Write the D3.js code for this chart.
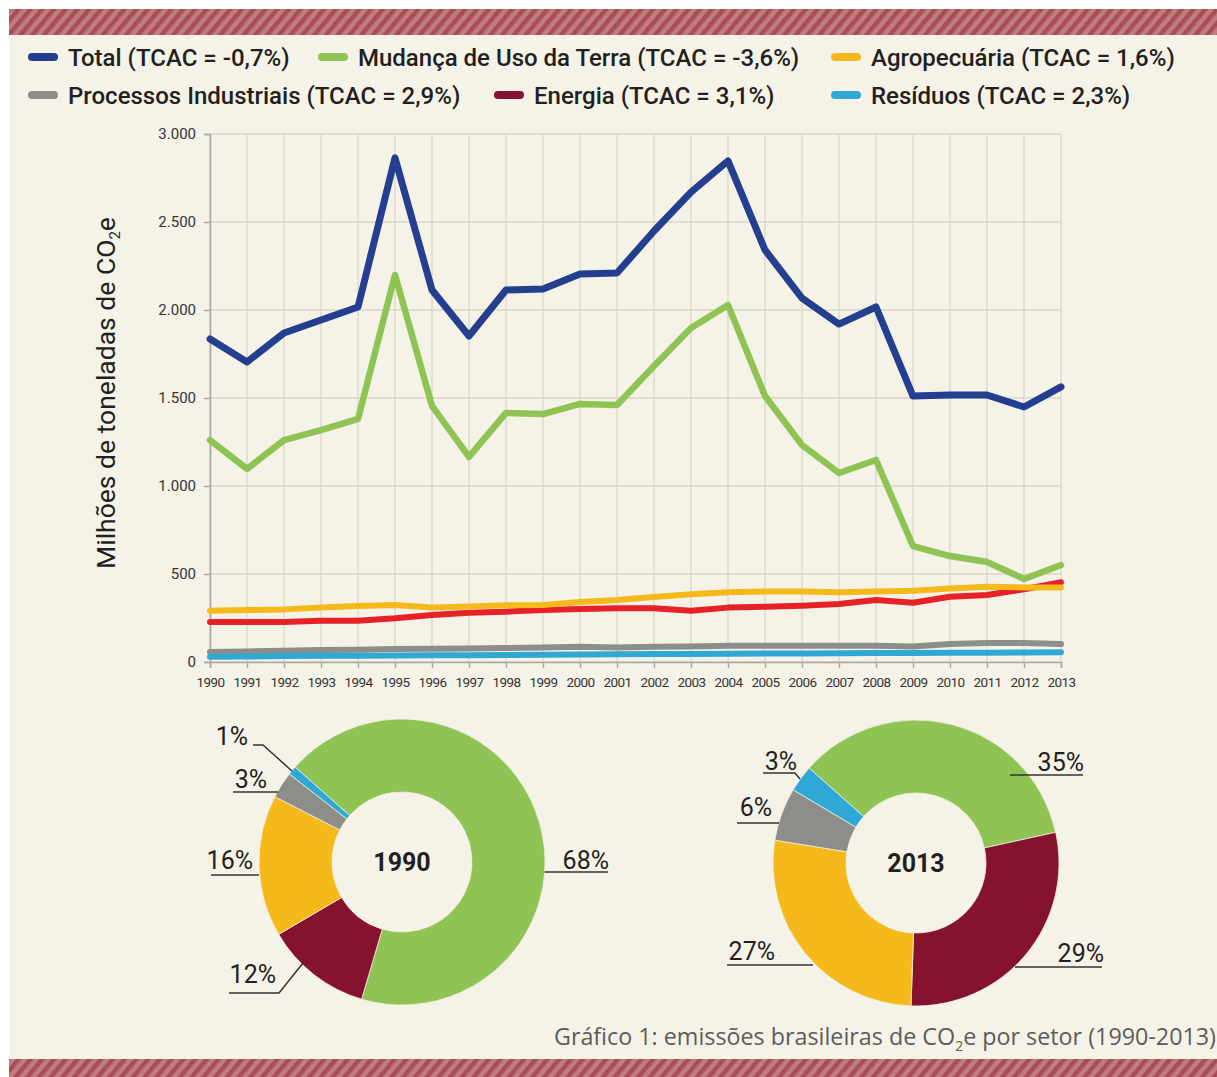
<!DOCTYPE html>
<html><head><meta charset="utf-8">
<script src="https://cdn.jsdelivr.net/npm/d3@7"></script>
<style>body{margin:0;background:#fff} svg{display:block}</style>
</head><body><svg id="c" width="1217" height="1077"></svg>
<script>
// ---------- DATA ----------
const years = [1990,1991,1992,1993,1994,1995,1996,1997,1998,1999,2000,2001,2002,2003,2004,2005,2006,2007,2008,2009,2010,2011,2012,2013];
const total    = [1835,1705,1869,1943,2017,2864,2114,1852,2114,2119,2205,2210,2449,2670,2847,2341,2068,1920,2017,1511,1517,1517,1449,1563];
const landUse  = [1261,1097,1261,1318,1381,2199,1455,1165,1415,1409,1466,1460,1682,1898,2028,1511,1233,1074,1148,659,602,568,472,551];
const agro     = [291,295,299,309,318,324,309,315,322,324,341,352,369,385,396,400,400,396,400,405,417,428,424,424];
const energy   = [227,227,227,235,235,248,267,280,286,295,301,305,305,291,309,314,320,330,352,337,371,381,413,453];
const industry = [57,60,64,68,70,74,75,77,80,82,86,82,87,88,92,92,92,92,92,88,102,108,108,102];
const waste    = [30,31,34,35,36,37,38,39,40,41,43,44,45,46,47,48,49,50,51,51,52,53,54,55];
const yTicks = [0,500,1000,1500,2000,2500,3000];

const legendLabels = ["Total (TCAC = -0,7%)","Mudança de Uso da Terra (TCAC = -3,6%)","Agropecuária (TCAC = 1,6%)",
                      "Processos Industriais (TCAC = 2,9%)","Energia (TCAC = 3,1%)","Resíduos (TCAC = 2,3%)"];
const pieSectors = ["Mudança de Uso da Terra","Energia","Agropecuária","Processos Industriais","Resíduos"];
const pie1990 = [68,12,16,3,1];
const pie2013 = [35,29,27,6,3];
const pieYears = ["1990","2013"];
const caption = "Gráfico 1: emissões brasileiras de CO";

// ---------- STYLE / LAYOUT ----------
const C = {total:"#243f8f", land:"#8fc454", agro:"#f5b91b", energyLine:"#e62128", energyDark:"#85122f", ind:"#8d8d89", waste:"#30a8d6"};
const bg = "#f5f3e7";
const svg = d3.select("#c");
const font = "Roboto, 'DejaVu Sans', sans-serif";

// background & stripes
const defs = svg.append("defs");
const pat = defs.append("pattern").attr("id","stripes").attr("patternUnits","userSpaceOnUse")
  .attr("width",9).attr("height",9).attr("patternTransform","rotate(40)");
pat.append("rect").attr("width",9).attr("height",9).attr("fill","#bf7d80");
pat.append("rect").attr("width",4.5).attr("height",9).attr("fill","#a94e58");

svg.append("rect").attr("x",9).attr("y",9).attr("width",1208).attr("height",1068).attr("fill",bg);
svg.append("rect").attr("x",9).attr("y",9).attr("width",1208).attr("height",26).attr("fill","url(#stripes)");
svg.append("rect").attr("x",9).attr("y",1059).attr("width",1208).attr("height",18).attr("fill","url(#stripes)");

// ---------- LEGEND ----------
const legendColors = [C.total, C.land, C.agro, C.ind, C.energyDark, C.waste];
const legendPos = [[28,57],[318,57],[831,57],[28,95],[494,95],[831,95]];
legendLabels.forEach((t,i)=>{
  const [lx,ly] = legendPos[i];
  const g = svg.append("g").attr("transform",`translate(${lx},${ly})`);
  g.append("line").attr("x1",4).attr("x2",26).attr("y1",0).attr("y2",0)
    .attr("stroke",legendColors[i]).attr("stroke-width",8).attr("stroke-linecap","round");
  g.append("text").attr("x",40).attr("y",8.5).text(t)
    .attr("font-family",font).attr("font-weight",500).attr("font-size",24).attr("fill","#231f20");
});

// ---------- LINE CHART ----------
const x = d3.scaleLinear().domain([years[0], years[years.length-1]]).range([210,1061]);
const y = d3.scaleLinear().domain([0,3000]).range([662,134]);
const loc = d3.formatLocale({decimal:",", thousands:".", grouping:[3], currency:["",""]});
const fmt = loc.format(",");

const grid = svg.append("g");
grid.selectAll(".vg").data(years).join("line")
  .attr("x1",d=>x(d)).attr("x2",d=>x(d)).attr("y1",y(0)).attr("y2",y(3000))
  .attr("stroke","#d9d6ca").attr("stroke-width",1.3);
grid.selectAll(".hg").data(yTicks).join("line")
  .attr("x1",x(1990)).attr("x2",x(2013)).attr("y1",d=>y(d)).attr("y2",d=>y(d))
  .attr("stroke","#d9d6ca").attr("stroke-width",1.3);

const yAxis = svg.append("g").attr("transform",`translate(${x(1990)},0)`)
  .call(d3.axisLeft(y).tickValues(yTicks).tickFormat(fmt).tickSize(6).tickPadding(8));
const xAxis = svg.append("g").attr("transform",`translate(0,${y(0)})`)
  .call(d3.axisBottom(x).tickValues(years).tickFormat(d=>String(d)).tickSize(6).tickPadding(9));
[yAxis,xAxis].forEach(a=>{
  a.select(".domain").attr("stroke","#aaa9a1").attr("stroke-width",1.6);
  a.selectAll(".tick line").attr("stroke","#aaa9a1").attr("stroke-width",1.4);
  a.selectAll("text").attr("font-family",font).attr("fill","#333");
});
yAxis.selectAll("text").attr("font-size",15);
xAxis.selectAll("text").attr("font-size",13.5).attr("letter-spacing","-0.6px");

// y title
const yt = svg.append("text").attr("transform","translate(115,393) rotate(-90)")
  .attr("text-anchor","middle").attr("font-family",font).attr("font-size",26.5).attr("fill","#231f20");
yt.append("tspan").text("Milhões de toneladas de CO");
yt.append("tspan").text("2").attr("font-size",15).attr("dy",5);
yt.append("tspan").text("e").attr("dy",-5);

const line = d3.line().x((d,i)=>x(years[i])).y(d=>y(d));
const series = [[industry,C.ind,6],[waste,C.waste,6],[energy,C.energyLine,6],[agro,C.agro,6],[landUse,C.land,6.5],[total,C.total,7]];
series.forEach(([vals,col,w])=>{
  svg.append("path").datum(vals).attr("d",line).attr("fill","none").attr("stroke",col)
    .attr("stroke-width",w).attr("stroke-linejoin","round").attr("stroke-linecap","round");
});

// ---------- DONUTS ----------
const sectorColors = [C.land, C.energyDark, C.agro, C.ind, C.waste];
const start = -48.4*Math.PI/180;
const pie = d3.pie().sort(null).startAngle(start).endAngle(start+2*Math.PI);
const R = 143, r0 = 70;
const arc = d3.arc().innerRadius(r0).outerRadius(R);
const pieCenters = [[402,862],[916,863]];
// label layout: text position (end-anchored baseline) and leader polyline, relative to centre
const labelLayout = [
  [ {t:[207,7], p:[[142.6,10],[206,10]]},
    {t:[-126,121], p:[[-173,131],[-123,131],[-99,101]]},
    {t:[-149,7], p:[[-191,13],[-143,13]]},
    {t:[-135,-74], p:[[-169,-70],[-124,-70]]},
    {t:[-154,-117], p:[[-149,-117],[-139,-117],[-110,-91]]} ],
  [ {t:[168,-92], p:[[94,-88],[167,-88]]},
    {t:[188,99], p:[[99,104],[186,104]]},
    {t:[-141,97], p:[[-189,102],[-103,102]]},
    {t:[-144,-47], p:[[-179,-40],[-137,-40]]},
    {t:[-119,-93], p:[[-153,-90],[-121,-90],[-116,-84]]} ]
];
[pie1990, pie2013].forEach((vals,k)=>{
  const [cx,cy] = pieCenters[k];
  const g = svg.append("g").attr("transform",`translate(${cx},${cy})`);
  g.selectAll("path.s").data(pie(vals)).join("path").attr("d",arc)
    .attr("fill",(d,i)=>sectorColors[i]).attr("stroke","#f3efe0").attr("stroke-width",0.8);
  g.append("text").text(pieYears[k]).attr("text-anchor","middle").attr("y",9)
    .attr("font-family",font).attr("font-weight",700).attr("font-size",25).attr("fill","#231f20");
  vals.forEach((v,i)=>{
    const L = labelLayout[k][i];
    g.append("polyline").attr("points",L.p.map(q=>q.join(",")).join(" "))
      .attr("fill","none").attr("stroke","#333").attr("stroke-width",1.5);
    g.append("text").attr("x",L.t[0]).attr("y",L.t[1]).attr("text-anchor","end").text(v+"%")
      .attr("font-family",font).attr("font-size",25).attr("fill","#231f20");
  });
});

// ---------- CAPTION ----------
const cap = svg.append("text").attr("x",1216).attr("y",1045).attr("text-anchor","end")
  .attr("font-family","'Open Sans', 'Noto Sans', sans-serif").attr("font-size",23.3).attr("fill","#5c5c5c");
cap.append("tspan").text(caption);
cap.append("tspan").text("2").attr("font-size",14).attr("dy",6);
cap.append("tspan").text("e por setor (1990-2013)").attr("dy",-6);
</script></body></html>
